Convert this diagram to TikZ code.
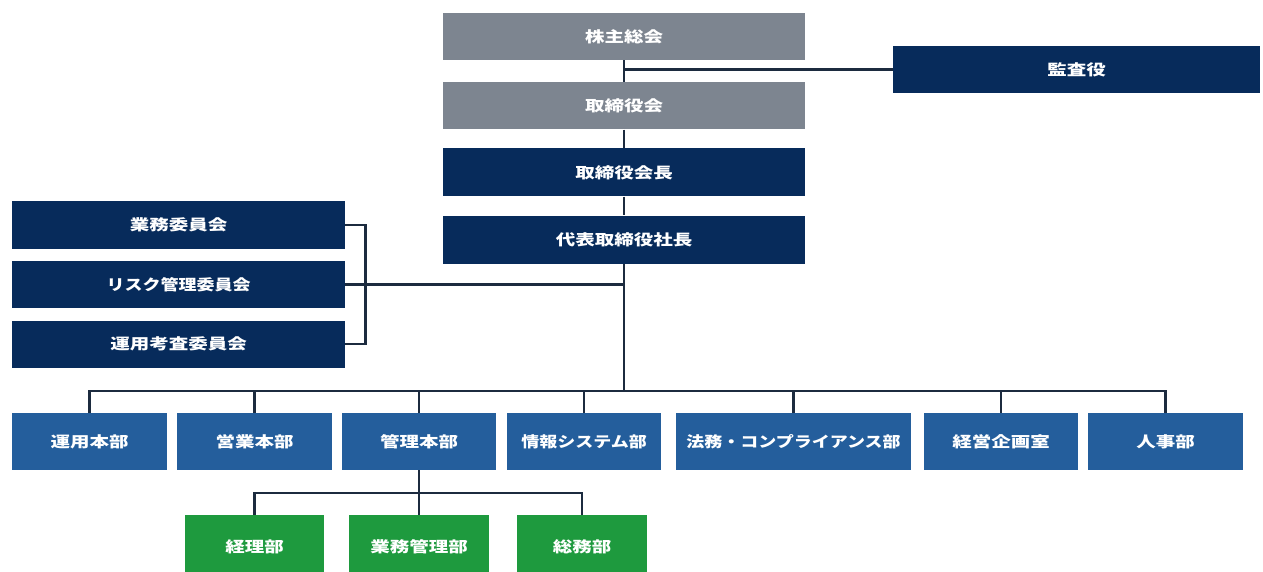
\documentclass[tikz,border=0pt]{standalone}
\usepackage{fontspec}
\newfontfamily\cjk[FakeStretch=1.3]{Noto Sans CJK JP}
\newfontfamily\cjkn[FakeStretch=1.2]{Noto Sans CJK JP}
\definecolor{grayb}{HTML}{7D8590}
\definecolor{navyb}{HTML}{072B5B}
\definecolor{blueb}{HTML}{245E9C}
\definecolor{greenb}{HTML}{1E9A3E}
\definecolor{linec}{HTML}{1C2B3F}
\tikzset{
  box/.style={rectangle, inner sep=0pt, text=white, font=\cjk\bfseries\fontsize{15}{15}\selectfont},
  narrowtext/.style={font=\cjkn\bfseries\fontsize{15}{15}\selectfont},
  graybox/.style={box, fill=grayb, minimum width=362pt, minimum height=47pt},
  topnavy/.style={box, fill=navyb, minimum width=362pt, minimum height=48pt},
  commbox/.style={box, fill=navyb, minimum width=333pt, minimum height=47pt},
  deptbox/.style={box, fill=blueb, minimum height=57pt},
  subbox/.style={box, fill=greenb, minimum height=64pt},
  conn/.style={draw=linec, line width=2.6pt}
}
\begin{document}
\begin{tikzpicture}[x=1pt,y=-1pt]
\useasboundingbox (0,0) rectangle (1263,572);
\begin{scope}
\clip (0,0) rectangle (1263,572);
% top column
\node[graybox] (kabu) at (624,36.5) {株主総会};
\node[graybox] (tori) at (624,106) {取締役会};
\node[topnavy] (kaicho) at (624,172.5) {取締役会長};
\node[topnavy] (pres) at (624,239.5) {代表取締役社長};
\node[box, fill=navyb, minimum width=367pt, minimum height=47pt] (kansa) at (1076.5,69.5) {監査役};
% committees
\node[commbox] (c1) at (178.5,225) {業務委員会};
\node[commbox, narrowtext] (c2) at (178.5,284.5) {リスク管理委員会};
\node[commbox] (c3) at (178.5,344) {運用考査委員会};
% departments
\node[deptbox, minimum width=155pt] (d1) at (89.5,441.5) {運用本部};
\node[deptbox, minimum width=155pt] (d2) at (254.5,441.5) {営業本部};
\node[deptbox, minimum width=154pt] (d3) at (419,441.5) {管理本部};
\node[deptbox, narrowtext, minimum width=154pt] (d4) at (584,441.5) {情報システム部};
\node[deptbox, narrowtext, minimum width=235pt] (d5) at (793.5,441.5) {法務・コンプライアンス部};
\node[deptbox, minimum width=154pt] (d6) at (1001,441.5) {経営企画室};
\node[deptbox, minimum width=155pt] (d7) at (1165.5,441.5) {人事部};
% sub departments
\node[subbox, minimum width=139pt] (g1) at (254.5,547) {経理部};
\node[subbox, minimum width=140pt] (g2) at (419,547) {業務管理部};
\node[subbox, minimum width=130pt] (g3) at (582,547) {総務部};
\end{scope}
\coordinate (busy) at (0,391);
\coordinate (subbus) at (0,493);
% connectors
\draw[conn] (kabu.south) -- (tori.north);
\draw[conn] (tori.south) -- (kaicho.north);
\draw[conn] (kaicho.south) -- (pres.north);
\draw[conn] (kansa.west) -- (kansa.west -| kabu.south);
\draw[conn] (c1.east) -- ++(20,0) |- (c3.east);
\draw[conn] (c2.east) -- (c2.east -| pres.south);
\draw[conn] (pres.south) -- (pres.south |- busy);
\draw[conn] (d1.north) -- (d1.north |- busy) -- (d7.north |- busy) -- (d7.north);
\foreach \d in {d2,d3,d4,d5,d6} \draw[conn] (\d.north) -- (\d.north |- busy);
\draw[conn] (d3.south) -- (g2.north);
\draw[conn] (g1.north) -- (g1.north |- subbus) -- (g3.north |- subbus) -- (g3.north);
\end{tikzpicture}
\end{document}
